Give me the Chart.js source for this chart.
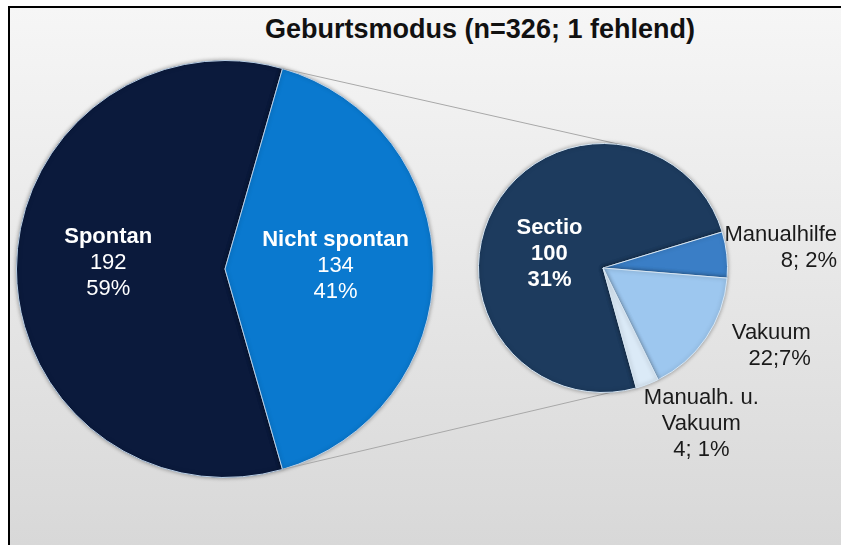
<!DOCTYPE html>
<html>
<head>
<meta charset="utf-8">
<script src="https://cdn.jsdelivr.net/npm/chart.js@4"></script>
<style>
  html, body { margin: 0; padding: 0; background: #fff; }
  #wrap { position: relative; width: 841px; height: 545px; overflow: hidden; background: #fff; }
  #frame { position: absolute; left: 8px; top: 6px; right: 0; bottom: 0;
    border-left: 2px solid #000; border-top: 2px solid #000;
    background: linear-gradient(#f6f6f6, #d8d8d8); }
  #title { position: absolute; left: 119px; width: 722px; top: 14px; text-align: center;
    font: bold 27px "Liberation Sans", Arial, sans-serif; color: #111; }
  canvas { position: absolute; left: 0; top: 0; }
</style>
</head>
<body>
<div id="wrap">
  <div id="frame"></div>
  <div id="title">Geburtsmodus (n=326; 1 fehlend)</div>
  <canvas id="big" width="841" height="545"></canvas>
  <canvas id="small" width="841" height="545"></canvas>
</div>
<script>
/* ── DATA ── */
const totalN = 326;
const mainLabels = ['Spontan', 'Nicht spontan'];
const mainValues = [192, 134];
const subLabels = ['Sectio', 'Manualhilfe', 'Vakuum', 'Manualh. u. Vakuum'];
const subValues = [100, 8, 22, 4];
const subNameLines = [['Sectio'], ['Manualhilfe'], ['Vakuum'], ['Manualh. u.', 'Vakuum']];
const subSeparators = ['', '; ', ';', '; '];

const pct = v => Math.round(v / totalN * 100) + '%';
const FONT = '"Liberation Sans", Arial, sans-serif';

/* ── LABEL PLUGIN ── */
const pieLabels = {
  id: 'pieLabels',
  afterDatasetsDraw(chart, args, opts) {
    const ctx = chart.ctx;
    const arcs = chart.getDatasetMeta(0).data;
    opts.items.forEach((it, i) => {
      const a = arcs[i];
      const x = a.x + it.dx * a.outerRadius;
      const y = a.y + it.dy * a.outerRadius;
      ctx.save();
      ctx.fillStyle = it.color;
      ctx.textAlign = it.align;
      ctx.textBaseline = 'middle';
      it.lines.forEach((t, k) => {
        ctx.font = (k < it.bold ? 'bold ' : '') + '22px ' + FONT;
        ctx.fillText(t, x, y + (k - (it.lines.length - 1) / 2) * 26);
      });
      ctx.restore();
    });
  }
};

/* ── SHADOW ── */
const pieShadow = {
  id: 'pieShadow',
  beforeDatasetsDraw(chart) {
    const c = chart.ctx;
    c.save();
    c.shadowColor = 'rgba(0,0,0,0.35)';
    c.shadowBlur = 4;
  },
  afterDatasetsDraw(chart) { chart.ctx.restore(); }
};

/* ── CONNECTOR LINES ── */
const connector = {
  id: 'connector',
  beforeDatasetsDraw(chart) {
    const big = Chart.getChart('big');
    if (!big) return;
    const arc = big.getDatasetMeta(0).data[1];
    const s = chart.getDatasetMeta(0).data[0];
    const d = Math.PI / 180;
    const pairs = [[arc.startAngle, -81 * d], [arc.endAngle, 86 * d]];
    const ctx = chart.ctx;
    ctx.save();
    ctx.strokeStyle = '#a8a8a8';
    ctx.lineWidth = 1;
    pairs.forEach(([a1, a2]) => {
      ctx.beginPath();
      ctx.moveTo(arc.x + arc.outerRadius * Math.cos(a1), arc.y + arc.outerRadius * Math.sin(a1));
      ctx.lineTo(s.x + s.outerRadius * Math.cos(a2), s.y + s.outerRadius * Math.sin(a2));
      ctx.stroke();
    });
    ctx.restore();
  }
};

const baseOpts = {
  responsive: false,
  animation: false,
  events: []
};

// Main pie
new Chart(document.getElementById('big'), {
  type: 'pie',
  data: {
    labels: mainLabels,
    datasets: [{
      data: mainValues,
      backgroundColor: ['#0b1a3c', '#0a79cf'],
      borderColor: '#b9cfe6',
      borderWidth: 1
    }]
  },
  options: {
    ...baseOpts,
    rotation: 90 + mainValues[1] / totalN * 180,
    layout: { padding: { left: 16, top: 60, right: 407, bottom: 67 } },
    plugins: {
      legend: { display: false },
      tooltip: { enabled: false },
      pieLabels: {
        items: [
          { dx: -0.56, dy: -0.03, align: 'center', color: '#fff', bold: 1,
            lines: [mainLabels[0], String(mainValues[0]), pct(mainValues[0])] },
          { dx: 0.53, dy: -0.015, align: 'center', color: '#fff', bold: 1,
            lines: [mainLabels[1], String(mainValues[1]), pct(mainValues[1])] }
        ]
      }
    }
  },
  plugins: [pieShadow, pieLabels]
});

// Breakdown pie
const subStyle = [
  { dx: -0.43, dy: -0.11, align: 'center', color: '#fff', bold: 3 },
  { dx: 1.88, dy: -0.16, align: 'right', color: '#1a1a1a', bold: 0 },
  { dx: 1.67, dy: 0.63, align: 'right', color: '#1a1a1a', bold: 0 },
  { dx: 0.79, dy: 1.25, align: 'center', color: '#1a1a1a', bold: 0 }
];
const subItems = subValues.map((v, i) => ({
  ...subStyle[i],
  lines: i === 0
    ? [subNameLines[i][0], String(v), pct(v)]
    : [...subNameLines[i], v + subSeparators[i] + pct(v)]
}));

new Chart(document.getElementById('small'), {
  type: 'pie',
  data: {
    labels: subLabels,
    datasets: [{
      data: subValues,
      backgroundColor: ['#1d3b5e', '#3a7ec6', '#9dc7ef', '#dbeaf7'],
      borderColor: '#d6e6f4',
      borderWidth: 1
    }]
  },
  options: {
    ...baseOpts,
    rotation: 164.5,
    layout: { padding: { left: 478, top: 143, right: 113, bottom: 152 } },
    plugins: {
      legend: { display: false },
      tooltip: { enabled: false },
      pieLabels: { items: subItems }
    }
  },
  plugins: [connector, pieShadow, pieLabels]
});
</script>
</body>
</html>
